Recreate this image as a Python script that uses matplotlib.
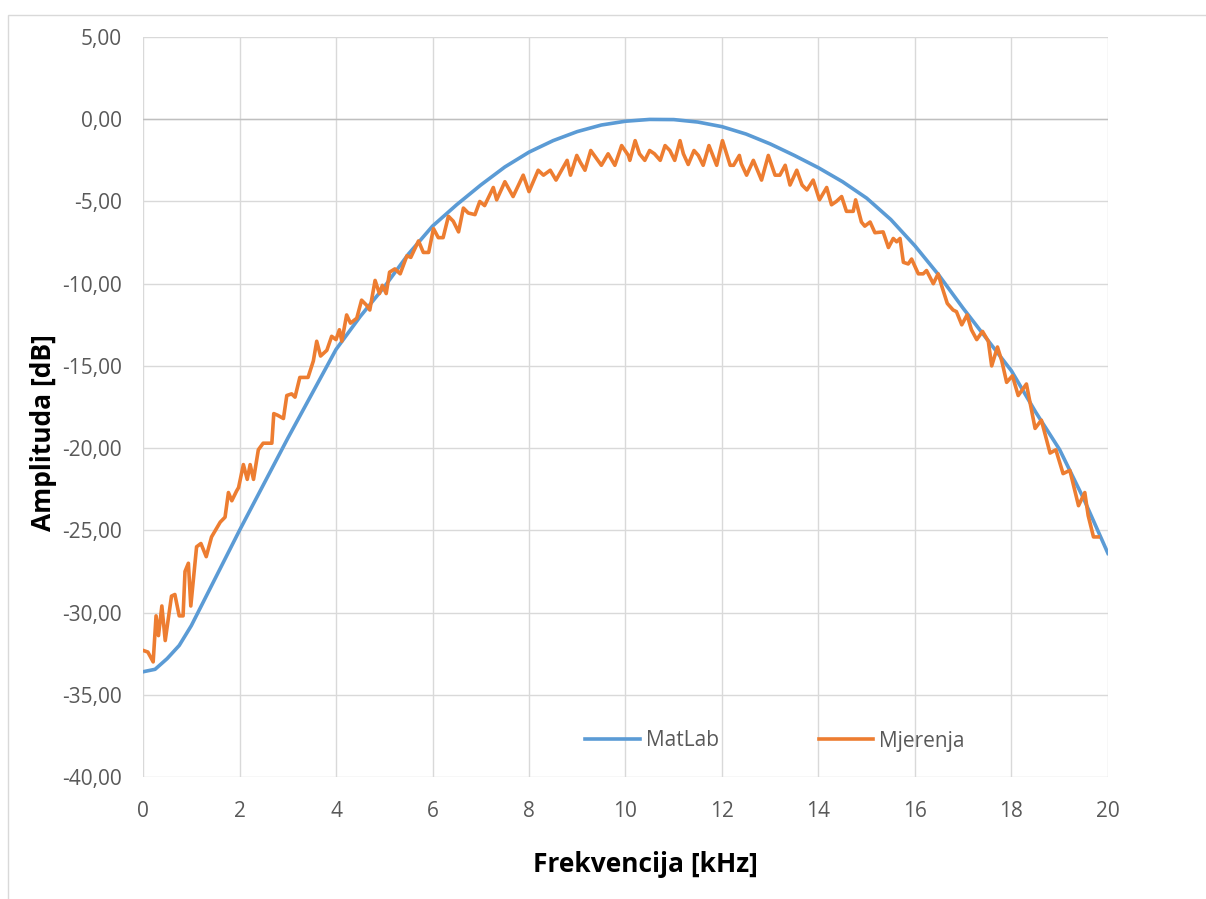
import matplotlib
matplotlib.use("Agg")
import matplotlib.pyplot as plt
from matplotlib.patches import Rectangle
from matplotlib.ticker import FuncFormatter, MultipleLocator

# MatLab model (smooth curve)
matlab_khz = [0, 0.25, 0.5, 0.75, 1, 1.5, 2, 2.5, 3, 3.5, 4, 4.5, 5, 5.5, 6,
              6.5, 7, 7.5, 8, 8.5, 9, 9.5, 10, 10.5, 11, 11.5, 12, 12.5, 13,
              13.5, 14, 14.5, 15, 15.5, 16, 16.5, 17, 17.5, 18, 18.5, 19,
              19.5, 20]
matlab_db = [-33.6, -33.45, -32.8, -32.0, -30.8, -27.9, -25.0, -22.2, -19.4,
             -16.7, -14.0, -12.0, -10.2, -8.2, -6.5, -5.2, -4.0, -2.9, -2.0,
             -1.3, -0.75, -0.35, -0.12, -0.01, -0.02, -0.17, -0.45, -0.9,
             -1.5, -2.2, -2.95, -3.8, -4.8, -6.1, -7.7, -9.5, -11.5, -13.4,
             -15.3, -17.8, -20.1, -23.1, -26.4]

# Measurements (noisy curve)
mjer_khz = [0.00, 0.10, 0.21, 0.27, 0.32, 0.39, 0.46, 0.59, 0.66, 0.75, 0.83,
            0.87, 0.94, 0.99, 1.11, 1.20, 1.31, 1.42, 1.60, 1.70, 1.77, 1.84,
            1.94, 1.98, 2.08, 2.16, 2.22, 2.29, 2.39, 2.49, 2.67, 2.71, 2.79,
            2.91, 2.98, 3.08, 3.15, 3.25, 3.42, 3.53, 3.60, 3.68, 3.81, 3.91,
            4.00, 4.07, 4.12, 4.22, 4.30, 4.43, 4.53, 4.63, 4.70, 4.81, 4.90,
            4.96, 5.04, 5.11, 5.22, 5.33, 5.47, 5.55, 5.71, 5.81, 5.92, 6.02,
            6.12, 6.22, 6.33, 6.43, 6.54, 6.64, 6.74, 6.88, 6.98, 7.08, 7.26,
            7.33, 7.50, 7.67, 7.88, 8.00, 8.19, 8.30, 8.44, 8.56, 8.79, 8.86,
            8.99, 9.06, 9.16, 9.28, 9.50, 9.64, 9.78, 9.92, 10.06, 10.09,
            10.20, 10.29, 10.40, 10.50, 10.60, 10.72, 10.82, 10.92, 11.02,
            11.13, 11.20, 11.30, 11.42, 11.51, 11.61, 11.73, 11.89, 12.01,
            12.17, 12.24, 12.36, 12.40, 12.51, 12.65, 12.82, 12.96, 13.10,
            13.20, 13.31, 13.41, 13.55, 13.66, 13.76, 13.89, 14.02, 14.17,
            14.27, 14.37, 14.48, 14.58, 14.72, 14.77, 14.89, 14.96, 15.07,
            15.17, 15.34, 15.45, 15.55, 15.62, 15.69, 15.76, 15.86, 15.93,
            16.07, 16.17, 16.24, 16.38, 16.48, 16.55, 16.67, 16.79, 16.86,
            16.97, 17.08, 17.17, 17.28, 17.40, 17.52, 17.59, 17.71, 17.80,
            17.90, 18.02, 18.14, 18.31, 18.49, 18.62, 18.80, 18.92, 19.07,
            19.21, 19.39, 19.52, 19.59, 19.70, 19.80]
mjer_db = [-32.3, -32.4, -33.0, -30.2, -31.4, -29.6, -31.7, -29.0, -28.9,
           -30.2, -30.2, -27.5, -27.0, -29.6, -26.0, -25.8, -26.6, -25.4,
           -24.5, -24.2, -22.7, -23.2, -22.6, -22.4, -21.0, -21.9, -21.0,
           -21.9, -20.1, -19.7, -19.7, -17.9, -18.0, -18.2, -16.8, -16.7,
           -16.9, -15.7, -15.7, -14.7, -13.5, -14.4, -14.05, -13.2, -13.4,
           -12.8, -13.5, -11.9, -12.4, -12.1, -11.0, -11.3, -11.6, -9.8,
           -10.6, -10.1, -10.6, -9.3, -9.1, -9.4, -8.3, -8.4, -7.4, -8.1,
           -8.1, -6.65, -7.2, -7.2, -5.9, -6.2, -6.85, -5.4, -5.7, -5.8,
           -5.0, -5.25, -4.15, -4.9, -3.8, -4.7, -3.4, -4.4, -3.1, -3.4,
           -3.1, -3.7, -2.5, -3.4, -2.2, -2.6, -3.1, -1.9, -2.8, -2.1, -2.8,
           -1.6, -2.2, -2.5, -1.3, -2.1, -2.5, -1.9, -2.1, -2.5, -1.6, -1.9,
           -2.5, -1.3, -2.1, -2.75, -1.9, -2.2, -2.8, -1.6, -2.8, -1.3, -2.8,
           -2.8, -2.2, -2.7, -3.4, -2.5, -3.7, -2.2, -3.4, -3.4, -2.8, -4.0,
           -3.1, -4.0, -4.3, -3.7, -4.9, -4.15, -5.2, -5.0, -4.7, -5.6, -5.6,
           -4.9, -6.25, -6.5, -6.25, -6.9, -6.85, -7.8, -7.25, -7.45, -7.25,
           -8.7, -8.8, -8.5, -9.4, -9.4, -9.2, -10.0, -9.4, -10.1, -11.2,
           -11.6, -11.7, -12.5, -11.9, -12.8, -13.4, -12.9, -13.5, -15.0,
           -13.85, -14.7, -16.0, -15.6, -16.8, -16.1, -18.8, -18.3, -20.3,
           -20.1, -21.55, -21.35, -23.5, -22.7, -24.1, -25.4, -25.4]

plt.rcParams['font.family'] = ['Open Sans', 'DejaVu Sans']

fig = plt.figure(figsize=(12.06, 8.99), dpi=100)
ax = fig.add_axes([0.1186, 0.1357, 0.8001, 0.8231])

# outer chart border
fig.patches.append(Rectangle((8 / 1206, -0.01), 1.0, 1 - 15 / 899 + 0.01,
                             transform=fig.transFigure, fill=False,
                             edgecolor='#d9d9d9', linewidth=1))

ax.plot(matlab_khz, matlab_db, color='#5B9BD5', lw=2.6, label='MatLab',
        solid_joinstyle='round', zorder=3)
ax.plot(mjer_khz, mjer_db, color='#ED7D31', lw=2.6, label='Mjerenja',
        solid_joinstyle='round', zorder=4)

ax.set_xlim(0, 20)
ax.set_ylim(-40, 5)
ax.xaxis.set_major_locator(MultipleLocator(2))
ax.yaxis.set_major_locator(MultipleLocator(5))
ax.yaxis.set_major_formatter(FuncFormatter(lambda v, p: f"{v:.2f}".replace('.', ',')))
ax.grid(True, color='#d9d9d9', linewidth=1)
ax.set_axisbelow(True)
ax.axhline(0, color='#bfbfbf', linewidth=1, zorder=2)
for s in ax.spines.values():
    s.set_visible(False)
ax.tick_params(length=0, labelsize=15, colors='#595959')
ax.tick_params(axis='y', pad=15.5)
ax.tick_params(axis='x', pad=17)

fig.text(645 / 1206, 1 - 865 / 899, 'Frekvencija [kHz]', fontsize=19,
         fontweight='bold', ha='center', va='center')
fig.text(44 / 1206, 1 - 433 / 899, 'Amplituda [dB]', fontsize=19,
         fontweight='bold', ha='center', va='center', rotation=90)

leg = ax.legend(loc='center', bbox_to_anchor=(775 / 1206, 1 - 741 / 899),
                bbox_transform=fig.transFigure, ncol=2, frameon=False,
                fontsize=15, handlelength=2.6, handletextpad=0.3,
                columnspacing=4.8)
for t in leg.get_texts():
    t.set_color('#595959')

fig.savefig('out.png', dpi=100)
